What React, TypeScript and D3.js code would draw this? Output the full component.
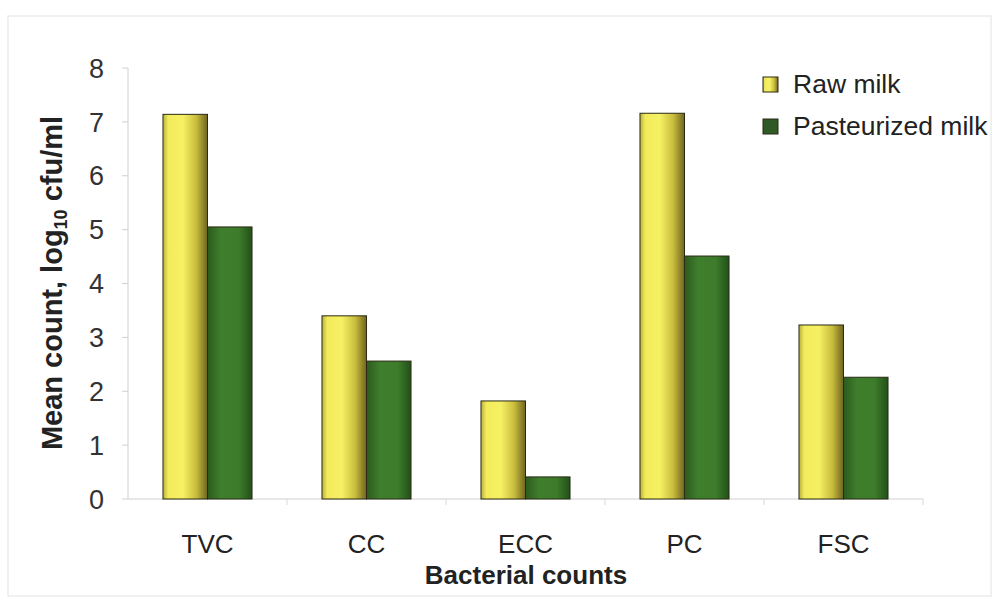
import React from "react";
import * as d3 from "d3";

const categories = ["TVC", "CC", "ECC", "PC", "FSC"];
const series = ["Raw milk", "Pasteurized milk"];
const rawMilk = [7.14, 3.4, 1.82, 7.16, 3.23];
const pasteurizedMilk = [5.05, 2.56, 0.41, 4.51, 2.26];
const yTicks = [0, 1, 2, 3, 4, 5, 6, 7, 8];

const W = 997;
const H = 599;
const left = 128;
const right = 923;
const top = 68;
const bottom = 499;
const FONT = "'Liberation Sans', Arial, Helvetica, sans-serif";

export default function App() {
  const x = d3.scaleBand<string>().domain(categories).range([left, right]).padding(0);
  const y = d3.scaleLinear().domain([0, 8]).range([bottom, top]);
  const gw = x.bandwidth() * 0.56;
  const xs = d3
    .scaleBand<string>()
    .domain(series)
    .range([(x.bandwidth() - gw) / 2, (x.bandwidth() + gw) / 2])
    .padding(0);
  const values = [rawMilk, pasteurizedMilk];
  const fills = ["url(#gRaw)", "url(#gPast)"];

  return (
    <svg
      width={W}
      height={H}
      style={{ position: "absolute", left: 0, top: 0, background: "#fff" }}
    >
      <defs>
        <linearGradient id="gRaw" x1="0" x2="1" y1="0" y2="0">
          <stop offset="0%" stopColor="#b8b03a" />
          <stop offset="12%" stopColor="#f2ec5c" />
          <stop offset="45%" stopColor="#f6f064" />
          <stop offset="75%" stopColor="#c8bc3c" />
          <stop offset="100%" stopColor="#6e6420" />
        </linearGradient>
        <linearGradient id="gPast" x1="0" x2="1" y1="0" y2="0">
          <stop offset="0%" stopColor="#2c5a1e" />
          <stop offset="30%" stopColor="#3e7e2c" />
          <stop offset="70%" stopColor="#3d7c2b" />
          <stop offset="100%" stopColor="#22501a" />
        </linearGradient>
      </defs>
      <rect x={8} y={16} width={983} height={580} fill="none" stroke="#ececec" strokeWidth={1.5} />

      {/* axes */}
      <line x1={left} x2={left} y1={top} y2={bottom} stroke="#d0d0d0" strokeWidth={1} />
      <line x1={left} x2={right} y1={bottom} y2={bottom} stroke="#d0d0d0" strokeWidth={1} />
      {yTicks.map((t) => (
        <g key={t}>
          <line x1={left - 6} x2={left} y1={y(t)} y2={y(t)} stroke="#d0d0d0" />
          <text
            x={104}
            y={y(t)}
            dy="0.36em"
            textAnchor="end"
            fontFamily={FONT}
            fontSize={27}
            fill="#333"
          >
            {t}
          </text>
        </g>
      ))}
      {categories.map((c) => (
        <line
          key={"t" + c}
          x1={(x(c) as number) + x.bandwidth()}
          x2={(x(c) as number) + x.bandwidth()}
          y1={bottom}
          y2={bottom + 6}
          stroke="#d8d8d8"
        />
      ))}

      {/* bars */}
      {categories.map((c, i) => (
        <g key={c} transform={`translate(${x(c)},0)`}>
          {series.map((s, j) => (
            <rect
              key={s}
              x={xs(s)}
              y={y(values[j][i])}
              width={xs.bandwidth()}
              height={y(0) - y(values[j][i])}
              fill={fills[j]}
              stroke="#2a2a14"
              strokeWidth={1}
            />
          ))}
          <text
            x={x.bandwidth() / 2}
            y={553}
            textAnchor="middle"
            fontFamily={FONT}
            fontSize={26}
            fill="#222"
          >
            {c}
          </text>
        </g>
      ))}

      {/* axis titles */}
      <text
        x={526}
        y={584}
        textAnchor="middle"
        fontFamily={FONT}
        fontWeight="bold"
        fontSize={26}
        fill="#222"
      >
        Bacterial counts
      </text>
      <text
        transform="translate(62,283) rotate(-90)"
        textAnchor="middle"
        fontFamily={FONT}
        fontWeight="bold"
        fontSize={29}
        fill="#222"
      >
        <tspan>Mean count, log</tspan>
        <tspan fontSize={18} dy={5}>10</tspan>
        <tspan dy={-5}> cfu/ml</tspan>
      </text>

      {/* legend */}
      {series.map((s, j) => (
        <g key={"l" + s} transform={`translate(763,${77 + j * 42})`}>
          <rect
            x={0}
            y={0}
            width={15}
            height={15}
            fill={j === 0 ? "url(#gRaw)" : "#2f5a26"}
            stroke="#2a2a14"
            strokeWidth={1}
          />
          <text x={30} y={16} fontFamily={FONT} fontSize={26.5} fill="#222">
            {s}
          </text>
        </g>
      ))}
    </svg>
  );
}
